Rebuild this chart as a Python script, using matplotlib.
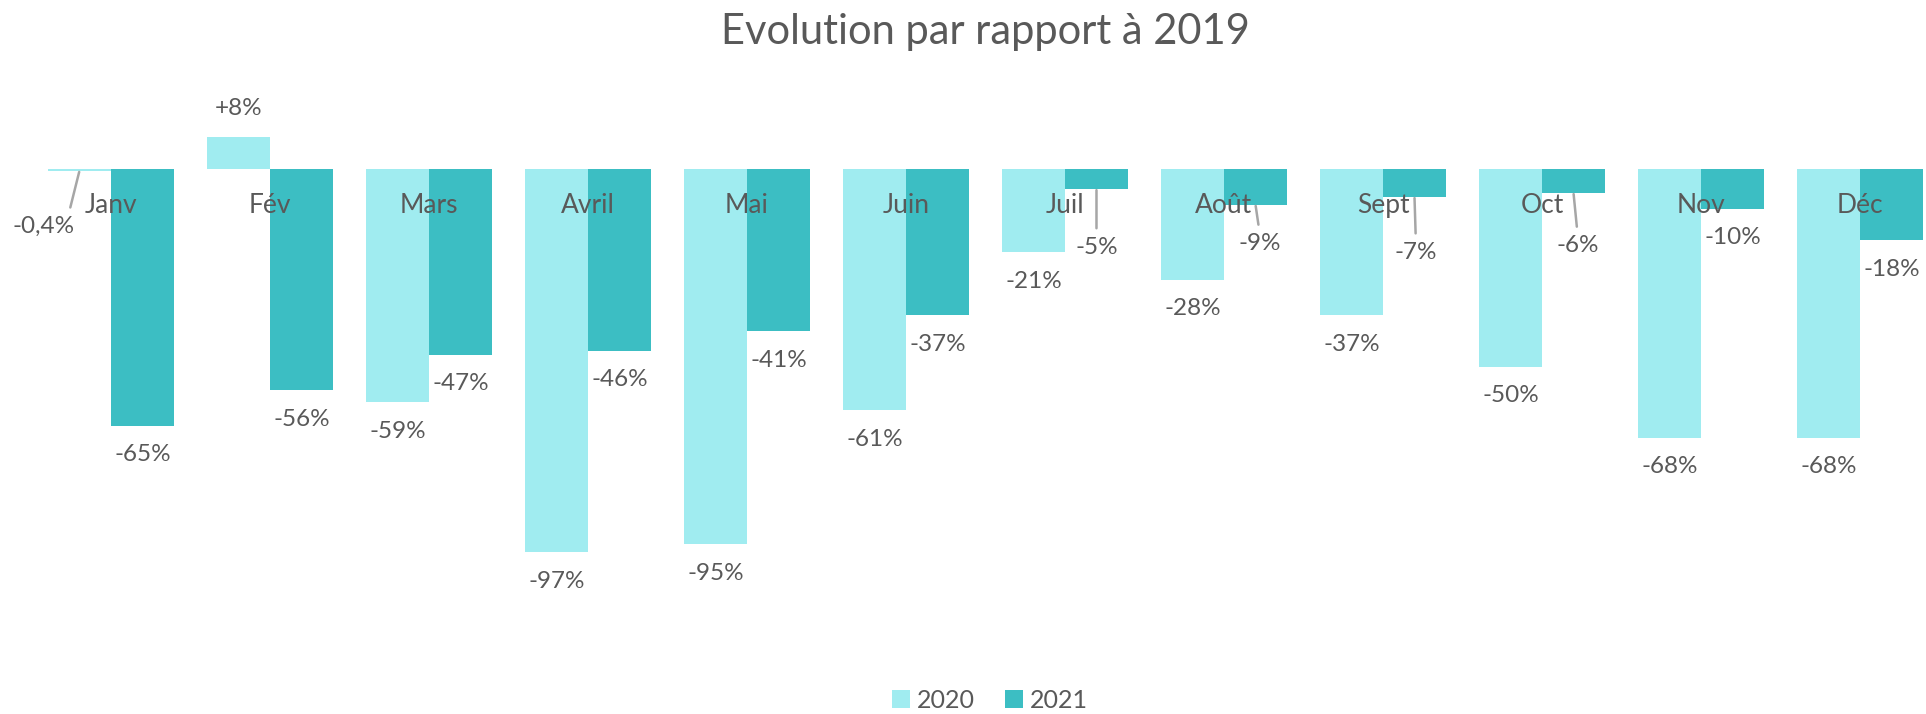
import numpy as np
import matplotlib.pyplot as plt

# data
months = ['Janv', 'Fév', 'Mars', 'Avril', 'Mai', 'Juin', 'Juil', 'Août', 'Sept', 'Oct', 'Nov', 'Déc']
evol_2020 = [-0.4, 8, -59, -97, -95, -61, -21, -28, -37, -50, -68, -68]
evol_2021 = [-65, -56, -47, -46, -41, -37, -5, -9, -7, -6, -10, -18]
labels_2020 = ['-0,4%', '+8%', '-59%', '-97%', '-95%', '-61%', '-21%', '-28%', '-37%', '-50%', '-68%', '-68%']
labels_2021 = ['-65%', '-56%', '-47%', '-46%', '-41%', '-37%', '-5%', '-9%', '-7%', '-6%', '-10%', '-18%']

c2020 = '#A0ECF0'
c2021 = '#3CBEC3'
txt = '#595959'
lead = '#A6A6A6'

W, H = 1926, 714
fig = plt.figure(figsize=(W / 100, H / 100), dpi=100)
# axes placed in pixels: zero line at y=169, one category = 159 px
ax = fig.add_axes([31.5 / W, 1 - 640 / H, 1908 / W, 550 / H])
ax.set_xlim(-0.5, 11.5)
ax.set_ylim(-119.24, 20)
ax.axis('off')

x = np.arange(len(months))
bw = 0.396
ax.bar(x - bw / 2, evol_2020, bw, color=c2020, label='2020', zorder=2)
ax.bar(x + bw / 2, evol_2021, bw, color=c2021, label='2021', zorder=2)

font = 'Lato'
lab_size = 17.5

# labels moved away from the category names, with a leader line (offsets in points)
moved = {
    ('2020', 0): (-26, -40),
    ('2021', 6): (0, -42),
    ('2021', 7): (3, -28),
    ('2021', 8): (1, -40),
    ('2021', 9): (3, -38),
}


def put_label(xi, v, s, key):
    if key in moved:
        dx, dy = moved[key]
        ax.annotate(s, xy=(xi, v), xytext=(dx, dy), textcoords='offset points',
                    ha='center', va='center', fontsize=lab_size, color=txt, family=font, zorder=4,
                    arrowprops=dict(arrowstyle='-', color=lead, lw=1.8, shrinkA=4, shrinkB=1,
                                    relpos=(0.5 if dx >= 0 else 0.9, 1.0)))
    else:
        dy = 21 if v > 0 else -21
        ax.annotate(s, xy=(xi, v), xytext=(0, dy), textcoords='offset points',
                    ha='center', va='center', fontsize=lab_size, color=txt, family=font, zorder=4)


for i in range(len(months)):
    put_label(x[i] - bw / 2, evol_2020[i], labels_2020[i], ('2020', i))
    put_label(x[i] + bw / 2, evol_2021[i], labels_2021[i], ('2021', i))
    # category names sit just under the zero line, over the bars
    ax.annotate(months[i], xy=(x[i], 0), xytext=(0, -26), textcoords='offset points',
                ha='center', va='center', fontsize=19, color=txt, family=font, zorder=5)

fig.text(985 / W, 1 - 32 / H, 'Evolution par rapport à 2019', ha='center', va='center',
         fontsize=30, color=txt, family=font)

fig.legend(loc='center', bbox_to_anchor=(990 / W, 1 - 700 / H), ncol=2, frameon=False,
           prop={'family': font, 'size': 18}, labelcolor=txt, handlelength=0.7, handleheight=0.7,
           handletextpad=0.3, columnspacing=1.2)

fig.savefig('out.png', dpi=100)
